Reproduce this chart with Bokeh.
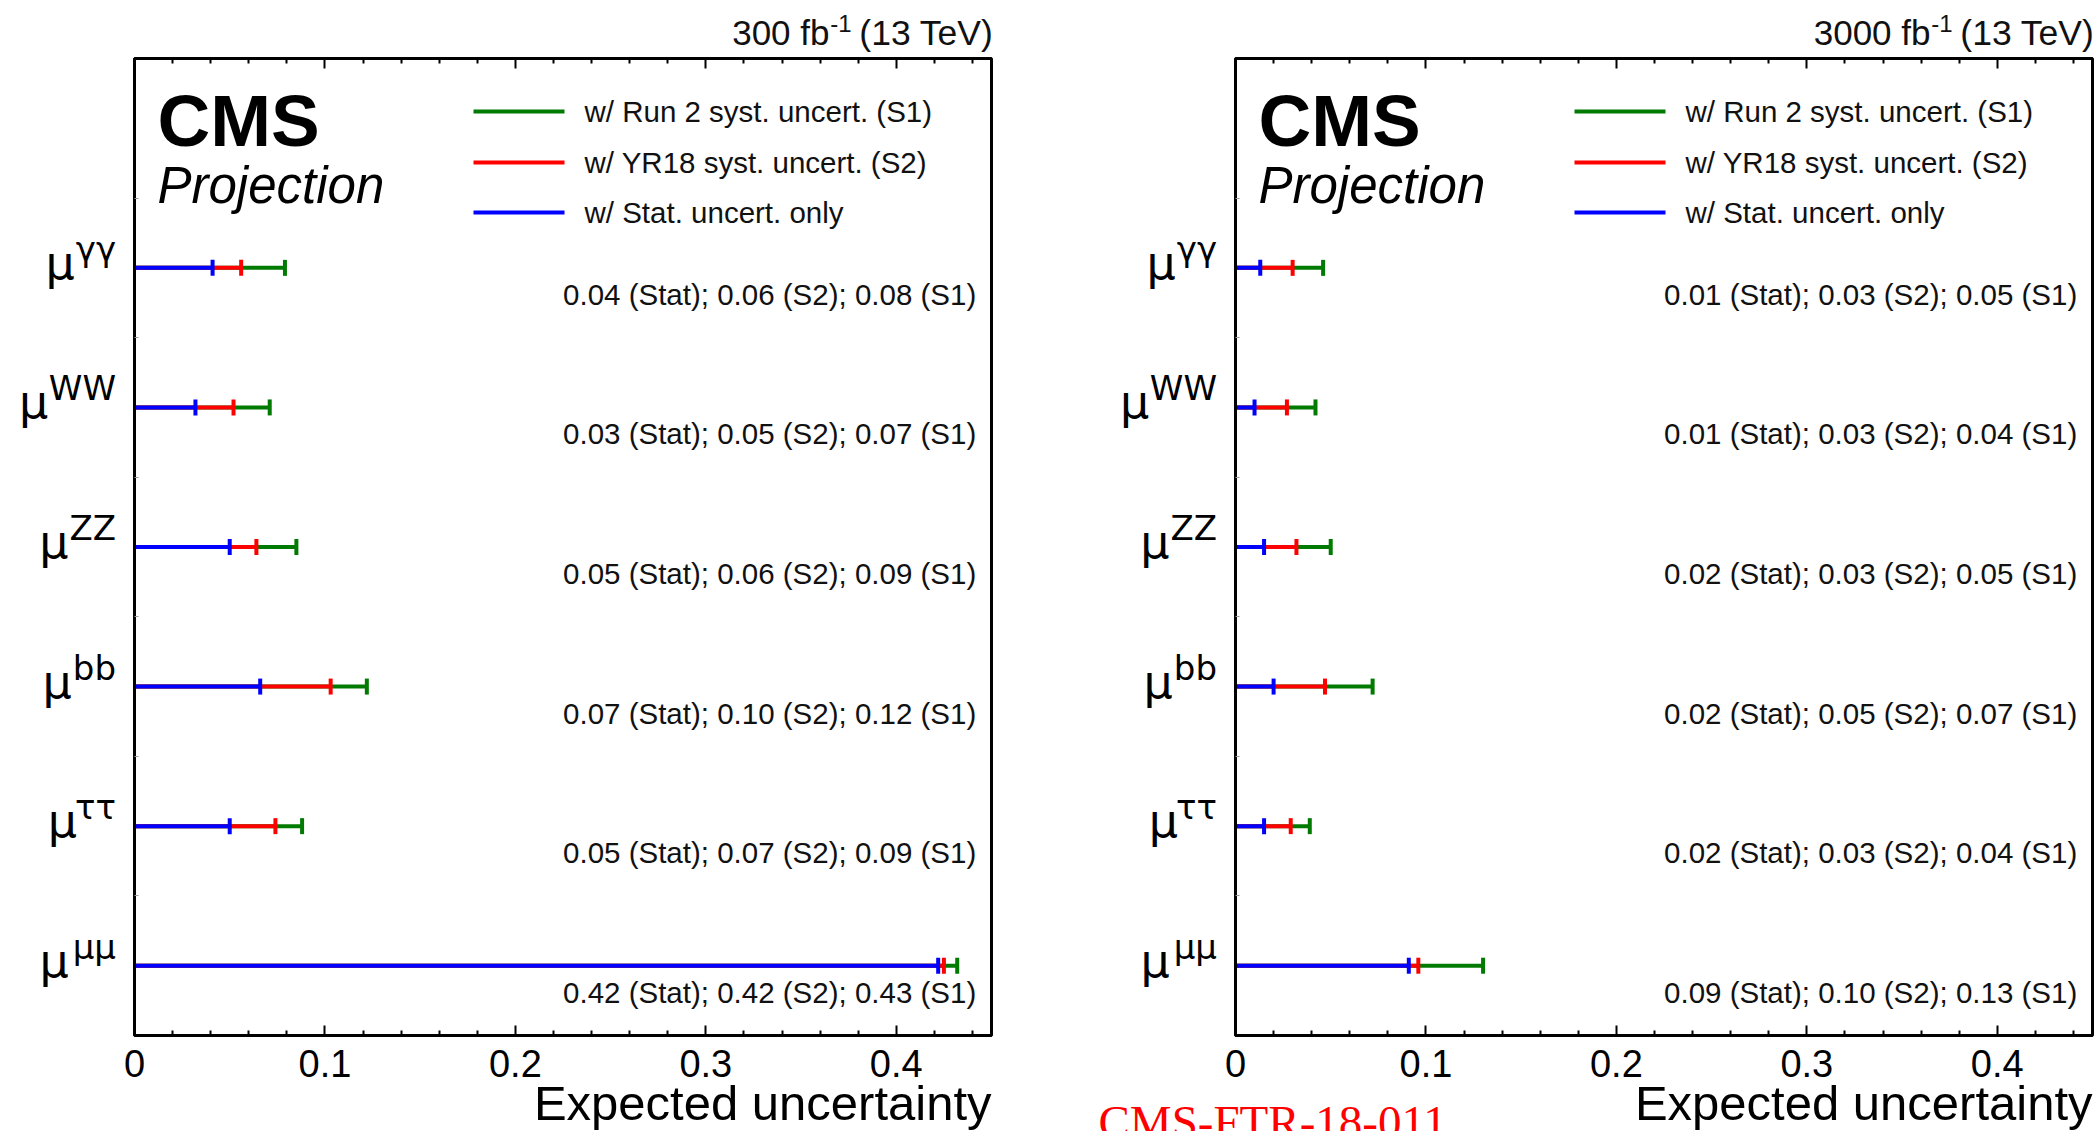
from bokeh.plotting import figure
from bokeh.models import Label, LinearAxis, FixedTicker, Range1d, CustomJSTickFormatter
from bokeh.layouts import row, column
from bokeh.core.properties import value
from bokeh.embed import file_html
from bokeh.resources import INLINE

# ---------------- data ----------------
categories = ["γγ", "WW", "ZZ", "bb", "ττ", "μμ"]

stat_300 = [0.041, 0.032, 0.050, 0.066, 0.050, 0.422]
s2_300 = [0.056, 0.052, 0.064, 0.103, 0.074, 0.425]
s1_300 = [0.079, 0.071, 0.085, 0.122, 0.088, 0.432]

stat_3000 = [0.013, 0.010, 0.015, 0.020, 0.015, 0.091]
s2_3000 = [0.030, 0.027, 0.032, 0.047, 0.029, 0.096]
s1_3000 = [0.046, 0.042, 0.050, 0.072, 0.039, 0.130]

ann_300 = [
    "0.04 (Stat); 0.06 (S2); 0.08 (S1)",
    "0.03 (Stat); 0.05 (S2); 0.07 (S1)",
    "0.05 (Stat); 0.06 (S2); 0.09 (S1)",
    "0.07 (Stat); 0.10 (S2); 0.12 (S1)",
    "0.05 (Stat); 0.07 (S2); 0.09 (S1)",
    "0.42 (Stat); 0.42 (S2); 0.43 (S1)",
]
ann_3000 = [
    "0.01 (Stat); 0.03 (S2); 0.05 (S1)",
    "0.01 (Stat); 0.03 (S2); 0.04 (S1)",
    "0.02 (Stat); 0.03 (S2); 0.05 (S1)",
    "0.02 (Stat); 0.05 (S2); 0.07 (S1)",
    "0.02 (Stat); 0.03 (S2); 0.04 (S1)",
    "0.09 (Stat); 0.10 (S2); 0.13 (S1)",
]
legend_labels = ["w/ Run 2 syst. uncert. (S1)", "w/ YR18 syst. uncert. (S2)", "w/ Stat. uncert. only"]
x_ticks = [0, 0.1, 0.2, 0.3, 0.4]
x_minor = [0.02, 0.04, 0.06, 0.08, 0.12, 0.14, 0.16, 0.18, 0.22, 0.24, 0.26, 0.28,
           0.32, 0.34, 0.36, 0.38, 0.42, 0.44]
x_title = "Expected uncertainty"
footer_text = "CMS-FTR-18-011"

GREEN = "#007a00"
RED = "#ff0000"
BLUE = "#0000ff"
SANS = "Liberation Sans"
MU_FONT = "DejaVu Sans"

FRAME_W = 857
FRAME_H = 977
HEAD_H = 54          # header strip (page top -> just above frame)
MB_TOP = 4
MB_BOT = 49
MB_LEFT = 14
MAIN_H = MB_TOP + FRAME_H + MB_BOT
FOOT_H = 1131 - HEAD_H - MAIN_H
PX_X = FRAME_W / 0.45
PX_Y = FRAME_H / 7.0

# approx advance widths (em) of DejaVu Sans glyphs, to place mu before its superscript
EM = {"γ": 0.592, "W": 0.98, "Z": 0.685, "b": 0.635, "τ": 0.557, "μ": 0.68}
SUP_PX = 34
MU_PX = 46
TXT = "29.5px"


def strip_fig(w, h):
    f = figure(width=w, height=h, x_range=Range1d(0, w), y_range=Range1d(0, h),
               output_backend="svg", toolbar_location=None,
               x_axis_location=None, y_axis_location=None,
               min_border=0)
    f.grid.visible = False
    f.outline_line_color = None
    return f


def make_panel(stat, s2, s1, ann, lumi, label_w, br, footer=False):
    n = len(categories)
    ys = [n - 1 - i for i in range(n)]
    zeros = [0] * n
    panel_w = label_w + MB_LEFT + FRAME_W + br
    frame_l = label_w + MB_LEFT
    frame_r = frame_l + FRAME_W

    # ---------- main plot ----------
    p = figure(width=MB_LEFT + FRAME_W + br, height=MAIN_H,
               x_range=Range1d(0, 0.45), y_range=Range1d(-0.5, 6.5),
               output_backend="svg", toolbar_location=None,
               min_border_left=MB_LEFT, min_border_right=br,
               min_border_top=MB_TOP, min_border_bottom=MB_BOT)
    p.grid.visible = False
    p.outline_line_color = "black"
    p.outline_line_width = 3

    xa = p.xaxis[0]
    xa.ticker = FixedTicker(ticks=x_ticks, minor_ticks=x_minor)
    xa.formatter = CustomJSTickFormatter(code="return (Math.round(tick*10)/10).toString();")
    xa.major_tick_in = 10
    xa.major_tick_out = 0
    xa.minor_tick_in = 5
    xa.minor_tick_out = 0
    xa.axis_line_width = 3
    xa.major_tick_line_width = 2
    xa.minor_tick_line_width = 2
    xa.major_label_text_font = SANS
    xa.major_label_text_font_size = "38px"
    xa.major_label_text_color = "black"
    xa.major_label_standoff = 14

    top = LinearAxis(ticker=FixedTicker(ticks=x_ticks, minor_ticks=x_minor),
                     major_tick_in=10, major_tick_out=0, minor_tick_in=5, minor_tick_out=0,
                     axis_line_width=3, major_tick_line_width=2, minor_tick_line_width=2,
                     major_label_text_font_size="0px", major_label_text_color=None,
                     major_label_standoff=0)
    p.add_layout(top, "above")

    ya = p.yaxis[0]
    ya.ticker = FixedTicker(ticks=[0.5, 1.5, 2.5, 3.5, 4.5, 5.5], minor_ticks=[])
    ya.major_tick_in = 4
    ya.major_tick_out = 0
    ya.axis_line_width = 3
    ya.major_tick_line_color = "#999999"
    ya.major_label_text_font_size = "0px"
    ya.major_label_text_color = None
    ya.major_label_standoff = 0

    h = 8 / PX_Y
    p.segment(x0=zeros, y0=ys, x1=s1, y1=ys, line_color=GREEN, line_width=4)
    p.segment(x0=zeros, y0=ys, x1=s2, y1=ys, line_color=RED, line_width=4)
    p.segment(x0=zeros, y0=ys, x1=stat, y1=ys, line_color=BLUE, line_width=4)
    p.segment(x0=s1, y0=[y - h for y in ys], x1=s1, y1=[y + h for y in ys], line_color=GREEN, line_width=4)
    p.segment(x0=s2, y0=[y - h for y in ys], x1=s2, y1=[y + h for y in ys], line_color=RED, line_width=4)
    p.segment(x0=stat, y0=[y - h for y in ys], x1=stat, y1=[y + h for y in ys], line_color=BLUE, line_width=4)

    for y, t in zip(ys, ann):
        p.add_layout(Label(x=0.442, y=y - 0.19, text=t, text_align="right", text_baseline="middle",
                           text_font=SANS, text_font_size=TXT, text_color="#111111"))

    p.add_layout(Label(x=23 / PX_X, y=6.5 - 62 / PX_Y, text="CMS", text_font=SANS, text_font_style="bold",
                       text_font_size="73px", text_baseline="middle", text_color="black"))
    p.add_layout(Label(x=23 / PX_X, y=6.5 - 127 / PX_Y, text="Projection", text_font=SANS,
                       text_font_style="italic", text_font_size="51px", text_baseline="middle",
                       text_color="black"))

    cols = [GREEN, RED, BLUE]
    leg_y = [6.5 - 53 / PX_Y, 6.5 - 104 / PX_Y, 6.5 - 154 / PX_Y]
    p.segment(x0=[339 / PX_X] * 3, y0=leg_y, x1=[430 / PX_X] * 3, y1=leg_y, line_color=cols, line_width=4)
    for yy, t in zip(leg_y, legend_labels):
        p.add_layout(Label(x=450 / PX_X, y=yy, text=t, text_font=SANS, text_font_size=TXT,
                           text_baseline="middle", text_color="#111111"))

    # ---------- category labels (left strip) ----------
    lab = figure(width=label_w, height=MAIN_H, x_range=Range1d(0, label_w), y_range=Range1d(-0.5, 6.5),
                 output_backend="svg", toolbar_location=None,
                 x_axis_location=None, y_axis_location=None,
                 min_border_left=0, min_border_right=0, min_border_top=MB_TOP, min_border_bottom=MB_BOT)
    lab.grid.visible = False
    lab.outline_line_color = None
    xr = frame_l - 18.5
    sup_w = [sum(EM.get(ch, 0.6) for ch in c) * SUP_PX for c in categories]
    lab.text(x=[xr] * n, y=[y + 19 / PX_Y for y in ys], text=categories, text_align="right",
             text_baseline="middle", text_font=value(MU_FONT), text_font_size=value(f"{SUP_PX}px"),
             text_color="black")
    lab.text(x=[xr - w - 1 for w in sup_w], y=[y + 5 / PX_Y for y in ys], text=["μ"] * n,
             text_align="right", text_baseline="middle", text_font=value(MU_FONT),
             text_font_size=value(f"{MU_PX}px"), text_color="black")

    # ---------- header strip ----------
    head = strip_fig(panel_w, HEAD_H)
    hr = frame_r + 2
    head.text(x=[hr, hr - 142, hr - 164], y=[HEAD_H - 32, HEAD_H - 23, HEAD_H - 32],
              text=["(13 TeV)", "-1", f"{lumi} fb"], text_align="right", text_baseline="middle",
              text_font=value(SANS), text_font_size=["35.5px", "24px", "35px"], text_color="#111111")

    # ---------- footer strip ----------
    foot = strip_fig(panel_w, FOOT_H)
    foot.text(x=[frame_r], y=[1131 - 1102], text=[x_title], text_align="right", text_baseline="middle",
              text_font=value(SANS), text_font_size=value("49px"), text_color="black")
    if footer:
        foot.text(x=[3], y=[1131 - 1121], text=[footer_text], text_align="left", text_baseline="middle",
                  text_font=value("Liberation Serif"), text_font_size=value("47px"), text_color="#ff0000")

    return column(head, row(lab, p, spacing=0), foot, spacing=0)


pa = make_panel(stat_300, s2_300, s1_300, ann_300, "300", 120, 104)
pb = make_panel(stat_3000, s2_3000, s1_3000, ann_3000, "3000", 126, 8, footer=True)

layout = row(pa, pb, spacing=0)
open("out.html", "w").write(file_html(layout, INLINE))
